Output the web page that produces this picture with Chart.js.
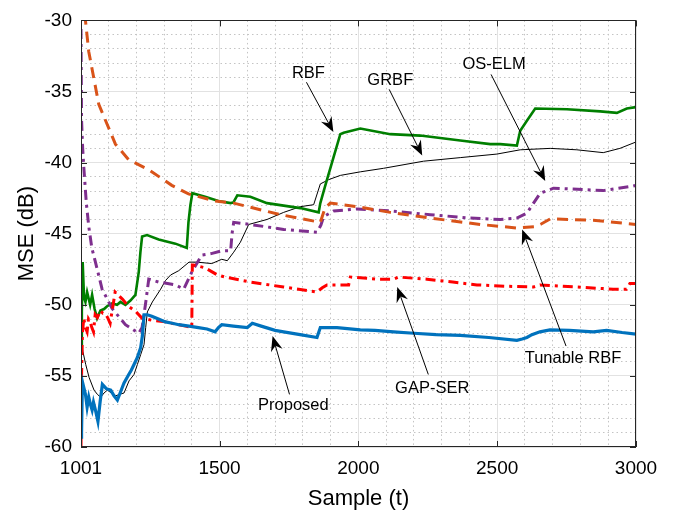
<!DOCTYPE html>
<html>
<head>
<meta charset="utf-8">
<script src="https://cdn.jsdelivr.net/npm/chart.js@4.4.1/dist/chart.umd.min.js"></script>
<style>
  html, body { margin: 0; padding: 0; background: #fff; }
</style>
</head>
<body>
<canvas id="mseChart" width="673" height="515"></canvas>
<script>

// axis ticks
const xTicks = [1001, 1500, 2000, 2500, 3000];
const yTicks = [-60, -55, -50, -45, -40, -35, -30];

// series: sample index / MSE (dB)
const proposedX = [1001, 1002, 1004, 1006, 1011, 1017, 1023, 1029, 1035, 1041, 1046, 1053, 1062, 1070, 1078, 1092, 1108, 1120, 1132, 1144, 1156, 1173, 1182, 1192, 1204, 1216, 1222, 1228, 1240, 1256, 1280, 1305, 1330, 1353, 1390, 1424, 1455, 1484, 1496, 1508, 1550, 1600, 1618, 1650, 1700, 1731, 1790, 1851, 1863, 1923, 2007, 2060, 2127, 2200, 2280, 2367, 2470, 2571, 2590, 2607, 2625, 2654, 2690, 2760, 2846, 2894, 2950, 3000];
const proposedY = [-59.3, -55.1, -59.0, -55.4, -55.8, -56.3, -57.2, -56.5, -57.0, -57.4, -56.85, -57.4, -58.2, -56.8, -55.6, -55.9, -56.0, -56.4, -56.7, -56.1, -55.5, -54.9, -54.6, -54.2, -53.7, -53.0, -52.2, -50.7, -50.7, -50.8, -51.0, -51.2, -51.3, -51.4, -51.5, -51.6, -51.7, -51.9, -51.6, -51.4, -51.5, -51.6, -51.3, -51.5, -51.8, -51.9, -52.1, -52.3, -51.6, -51.6, -51.76, -51.8, -51.9, -52.0, -52.1, -52.15, -52.3, -52.5, -52.4, -52.3, -52.1, -51.9, -51.76, -51.8, -51.9, -51.8, -51.95, -52.06];

const gapSerX = [1001, 1003, 1006, 1011, 1017, 1023, 1028, 1034, 1040, 1046, 1052, 1060, 1070, 1080, 1088, 1097, 1106, 1115, 1124, 1150, 1172, 1200, 1221, 1260, 1305, 1340, 1377, 1400, 1402, 1406, 1448, 1492, 1520, 1611, 1731, 1851, 1870, 1887, 1965, 1971, 2007, 2070, 2127, 2145, 2247, 2340, 2427, 2540, 2631, 2654, 2786, 2918, 2966, 2978, 3000];
const gapSerY = [-60, -55, -52.0, -50.95, -51.6, -51.9, -51.0, -51.2, -51.6, -51.9, -50.7, -50.9, -50.4, -50.6, -50.6, -50.9, -51.3, -50.2, -49.1, -49.6, -50.1, -50.5, -50.95, -51.1, -51.2, -51.35, -51.5, -51.6, -47.2, -47.2, -47.4, -47.9, -48.05, -48.4, -48.75, -49.1, -48.8, -48.6, -48.6, -48.05, -48.1, -48.2, -48.2, -48.05, -48.2, -48.4, -48.6, -48.7, -48.75, -48.6, -48.75, -48.9, -48.9, -48.5, -48.5];

const tunableX = [1008, 1017, 1029, 1047, 1065, 1095, 1125, 1173, 1245, 1328, 1388, 1484, 1551, 1719, 1863, 1880, 1899, 1995, 2115, 2259, 2439, 2571, 2637, 2660, 2691, 2846, 2972, 3000];
const tunableY = [-27, -30, -32.2, -34.05, -35.9, -37.3, -38.7, -39.8, -40.5, -41.6, -42.2, -42.7, -42.85, -43.66, -44.2, -43.2, -42.85, -43.1, -43.5, -43.9, -44.35, -44.6, -44.5, -44.3, -43.96, -44.05, -44.3, -44.35];

const osElmX = [1001, 1002, 1003, 1007, 1011, 1020, 1029, 1040, 1053, 1077, 1113, 1161, 1209, 1221, 1233, 1245, 1281, 1341, 1371, 1400, 1436, 1470, 1508, 1540, 1545, 1551, 1611, 1731, 1851, 1865, 1875, 1911, 1995, 2115, 2259, 2403, 2511, 2571, 2607, 2631, 2655, 2703, 2811, 2882, 2990, 3000];
const osElmY = [-30.6, -34, -37, -39, -40.3, -42.8, -44.5, -46.0, -47.0, -48.9, -50.26, -51.4, -52.0, -51.6, -50.0, -48.2, -48.4, -48.6, -48.9, -47.7, -46.5, -46.4, -46.2, -46.2, -45.0, -44.2, -44.35, -44.7, -44.9, -44.4, -43.8, -43.4, -43.26, -43.4, -43.66, -43.9, -44.0, -43.9, -43.55, -42.85, -42.15, -41.8, -41.9, -41.97, -41.65, -41.6];

const rbfX = [1001, 1004, 1007, 1012, 1017, 1023, 1034, 1041, 1050, 1059, 1071, 1084, 1095, 1113, 1131, 1143, 1161, 1179, 1197, 1209, 1215, 1221, 1239, 1281, 1341, 1382, 1388, 1395, 1402, 1448, 1496, 1540, 1550, 1564, 1611, 1671, 1791, 1857, 1863, 1881, 1911, 1935, 1947, 2007, 2115, 2223, 2367, 2475, 2511, 2571, 2583, 2607, 2637, 2751, 2871, 2931, 2967, 3000];
const rbfY = [-53.0, -50.5, -47.0, -49.5, -49.8, -49.1, -50.0, -49.3, -50.3, -50.95, -50.4, -50.3, -50.1, -49.9, -50.0, -49.8, -50.0, -49.7, -49.3, -47.7, -46.3, -45.2, -45.1, -45.4, -45.7, -46.0, -44.2, -43.0, -42.15, -42.4, -42.7, -42.85, -42.8, -42.3, -42.4, -42.85, -43.2, -43.5, -42.85, -41.6, -39.6, -38.0, -37.9, -37.6, -38.0, -38.1, -38.45, -38.7, -38.7, -38.8, -37.76, -37.06, -36.2, -36.25, -36.4, -36.5, -36.2, -36.1];

const grbfX = [1001, 1003, 1008, 1018, 1030, 1048, 1060, 1072, 1084, 1096, 1110, 1126, 1140, 1156, 1174, 1192, 1204, 1216, 1228, 1234, 1240, 1258, 1288, 1305, 1324, 1353, 1390, 1418, 1472, 1508, 1528, 1551, 1575, 1605, 1671, 1731, 1791, 1839, 1863, 1893, 1935, 2007, 2091, 2235, 2367, 2499, 2583, 2691, 2787, 2882, 2942, 3000];
const grbfY = [-50, -52.5, -53.3, -54.2, -55.1, -56.0, -56.3, -56.5, -56.2, -56.0, -56.2, -56.4, -56.3, -56.2, -55.35, -54.9, -54.2, -53.5, -52.8, -51.6, -50.5, -49.8, -48.9, -48.3, -47.9, -47.6, -47.0, -47.0, -47.1, -46.8, -46.9, -46.3, -45.6, -44.35, -44.0, -43.5, -43.1, -42.96, -41.5, -41.2, -40.9, -40.65, -40.4, -39.9, -39.65, -39.4, -39.1, -39.0, -39.1, -39.3, -39.0, -38.55];

// text labels with arrows (data coordinates)
const notes = [
    { text: "RBF",         at: [1820, -33.7], from: [1813, -34.35], to: [1910, -37.85] },
    { text: "GRBF",        at: [2115, -34.2], from: [2111, -34.85], to: [2230, -39.5] },
    { text: "OS-ELM",      at: [2489, -33.1], from: [2478, -33.8],  to: [2673, -41.3] },
    { text: "Tunable RBF", at: [2773, -53.8], from: [2748, -52.9],  to: [2590, -44.7] },
    { text: "GAP-SER",     at: [2266, -55.9], from: [2252, -54.9],  to: [2140, -48.75] },
    { text: "Proposed",    at: [1766, -57.1], from: [1752, -56.3],  to: [1691, -52.2] }
];

function pts(xs, ys) {
    return xs.map((x, i) => ({ x: x, y: ys[i] }));
}

function series(label, xs, ys, color, width, dash) {
    return {
        label: label,
        data: pts(xs, ys),
        borderColor: color,
        borderWidth: width,
        borderDash: dash,
        pointRadius: 0,
        tension: 0,
        fill: false,
        clip: 0
    };
}

const FONT = "'Liberation Sans', Arial, Helvetica, sans-serif";
Chart.defaults.font.family = FONT;
Chart.defaults.color = "#000";

// box, inward ticks and arrows
const extras = {
    id: "extras",
    afterDraw(chart) {
        const { ctx, chartArea: a, scales: { x, y } } = chart;
        ctx.save();
        ctx.strokeStyle = "#262626";
        ctx.lineWidth = 1;
        ctx.beginPath();
        xTicks.forEach(v => {
            const px = Math.round(x.getPixelForValue(v)) + 0.5;
            ctx.moveTo(px, a.bottom); ctx.lineTo(px, a.bottom - 6);
            ctx.moveTo(px, a.top); ctx.lineTo(px, a.top + 6);
        });
        yTicks.forEach(v => {
            const py = Math.round(y.getPixelForValue(v)) + 0.5;
            ctx.moveTo(a.left, py); ctx.lineTo(a.left + 6, py);
            ctx.moveTo(a.right, py); ctx.lineTo(a.right - 6, py);
        });
        ctx.stroke();
        ctx.strokeRect(Math.round(a.left) + 0.5, Math.round(a.top) + 0.5,
                       Math.round(a.width) - 1, Math.round(a.height) - 1);

        // annotations
        ctx.fillStyle = "#000";
        ctx.strokeStyle = "#000";
        ctx.font = "16.5px " + FONT;
        ctx.textAlign = "center";
        ctx.textBaseline = "middle";
        notes.forEach(n => {
            ctx.fillText(n.text, x.getPixelForValue(n.at[0]), y.getPixelForValue(n.at[1]));
            const x0 = x.getPixelForValue(n.from[0]), y0 = y.getPixelForValue(n.from[1]);
            const x1 = x.getPixelForValue(n.to[0]), y1 = y.getPixelForValue(n.to[1]);
            const ang = Math.atan2(y1 - y0, x1 - x0);
            const len = 15, half = 6, notch = 10;
            ctx.beginPath();
            ctx.moveTo(x0, y0);
            ctx.lineTo(x1 - notch * Math.cos(ang), y1 - notch * Math.sin(ang));
            ctx.stroke();
            const bx = x1 - len * Math.cos(ang), by = y1 - len * Math.sin(ang);
            ctx.beginPath();
            ctx.moveTo(x1, y1);
            ctx.lineTo(bx + half * Math.sin(ang), by - half * Math.cos(ang));
            ctx.lineTo(x1 - notch * Math.cos(ang), y1 - notch * Math.sin(ang));
            ctx.lineTo(bx - half * Math.sin(ang), by + half * Math.cos(ang));
            ctx.closePath();
            ctx.fill();
        });
        ctx.restore();
    }
};

new Chart(document.getElementById("mseChart"), {
    type: "line",
    data: {
        datasets: [
            series("Proposed", proposedX, proposedY, "#0072BD", 3.2, []),
            series("GAP-SER", gapSerX, gapSerY, "#FF0000", 3, [10, 5, 3, 5]),
            series("Tunable RBF", tunableX, tunableY, "#D95319", 3, [11, 7]),
            series("OS-ELM", osElmX, osElmY, "#7E2F8E", 3, [10, 5, 3, 5]),
            series("RBF", rbfX, rbfY, "#007F00", 2.6, []),
            series("GRBF", grbfX, grbfY, "#000000", 1, [])
        ]
    },
    options: {
        responsive: false,
        animation: false,
        layout: { padding: { top: 15, right: 37, left: 0, bottom: 0 } },
        plugins: {
            legend: { display: false },
            tooltip: { enabled: false }
        },
        scales: {
            xMinor: {
                type: "linear", position: "bottom", min: 1001, max: 3000,
                afterBuildTicks: s => { const t = []; for (let v = 1100; v < 3000; v += 100) t.push({ value: v }); s.ticks = t; },
                afterFit: s => { s.height = 0; },
                ticks: { display: false },
                grid: { color: "#c4c4c4", lineWidth: 1, drawTicks: false, z: -1 },
                border: { display: false, dash: [1.5, 3] }
            },
            yMinor: {
                type: "linear", position: "left", min: -60, max: -30,
                afterBuildTicks: s => { const t = []; for (let v = -59; v < -30; v += 1) t.push({ value: v }); s.ticks = t; },
                afterFit: s => { s.width = 0; },
                ticks: { display: false },
                grid: { color: "#c4c4c4", lineWidth: 1, drawTicks: false, z: -1 },
                border: { display: false, dash: [1.5, 3] }
            },
            x: {
                type: "linear", position: "bottom", min: 1001, max: 3000,
                afterBuildTicks: s => { s.ticks = xTicks.map(v => ({ value: v })); },
                afterFit: s => { s.height = 68; },
                ticks: { font: { size: 19 }, padding: 10, maxRotation: 0, autoSkip: false, callback: v => String(v) },
                grid: { color: "#e2e2e2", lineWidth: 1, drawTicks: false },
                border: { display: false },
                title: { display: true, text: "Sample (t)", font: { size: 22 }, padding: { top: 0, bottom: 3 } }
            },
            y: {
                type: "linear", position: "left", min: -60, max: -30,
                afterBuildTicks: s => { s.ticks = yTicks.map(v => ({ value: v })); },
                afterFit: s => { s.width = 81; },
                ticks: { font: { size: 19 }, padding: 9, autoSkip: false, callback: v => String(v) },
                grid: { color: "#e2e2e2", lineWidth: 1, drawTicks: false },
                border: { display: false },
                title: { display: true, text: "MSE (dB)", font: { size: 22 }, padding: { top: 14, bottom: 0 } }
            }
        }
    },
    plugins: [extras]
});
</script>
</body>
</html>
